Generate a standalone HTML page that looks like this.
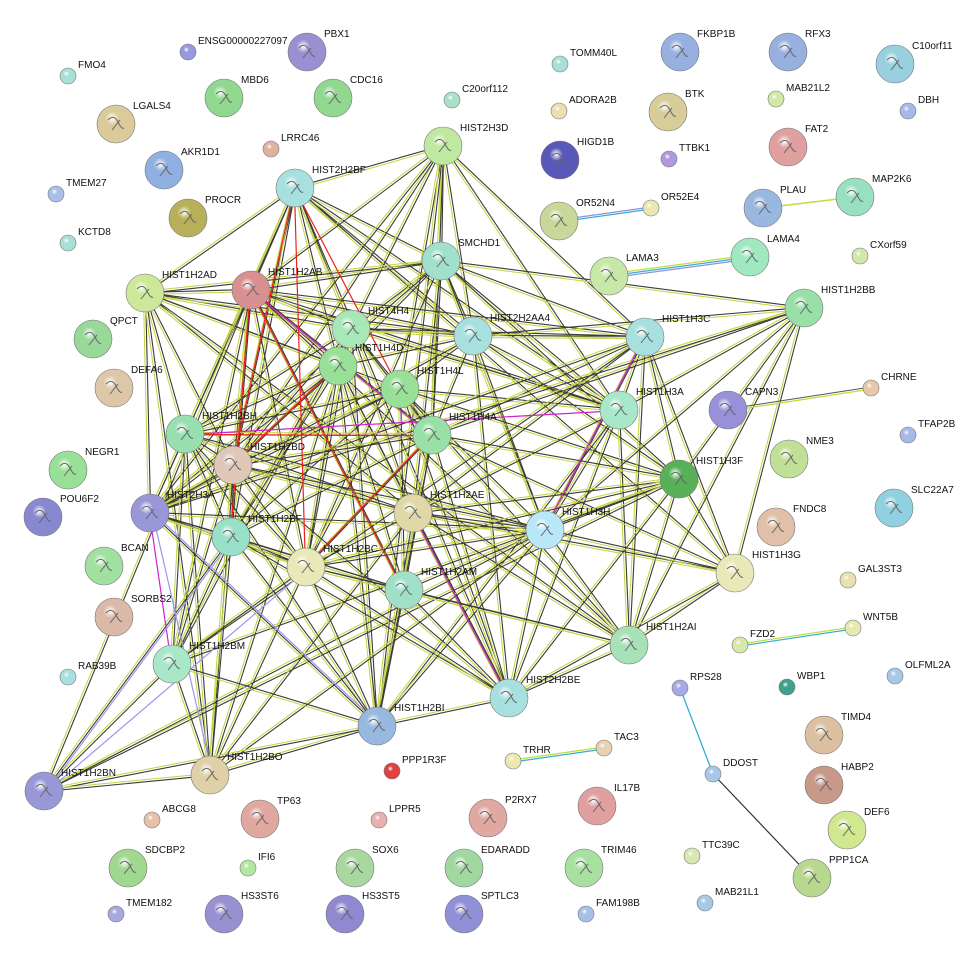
<!DOCTYPE html>
<html><head><meta charset="utf-8">
<style>html,body{margin:0;padding:0;background:#fff;}svg{display:block;}text{font-family:"Liberation Sans",sans-serif;font-size:10px;fill:#111;}</style>
</head><body>
<svg id="s" width="979" height="961" xmlns="http://www.w3.org/2000/svg"><defs id="d"></defs><g id="e"></g><g id="n"></g><g id="t"></g></svg>
<script>
var B=[
["PBX1",307,52,"#9a8fd0"],["MBD6",224,98,"#90d890"],["CDC16",333,98,"#90d890"],["LGALS4",116,124,"#dccb9a"],
["AKR1D1",164,170,"#8fb0e0"],["PROCR",188,218,"#b8b058"],["HIST2H2BF",295,188,"#a8e0e0"],["HIST2H3D",443,146,"#bfe8a0"],
["SMCHD1",441,261,"#a0e0cc"],["HIST1H2AD",145,293,"#cce898"],["HIST1H2AB",251,290,"#d89090"],["QPCT",93,339,"#98d898"],
["HIST4H4",351,329,"#a8e8b8"],["HIST2H2AA4",473,336,"#a8e0e0"],["HIST1H4D",338,366,"#98e098"],["HIST1H4L",400,389,"#98e098"],
["DEFA6",114,388,"#dcc8a8"],["HIST1H3C",645,337,"#a8e0e0"],["HIST1H2BB",804,308,"#98e0a8"],["HIST1H3A",619,410,"#a8e8c8"],
["HIST1H4A",432,435,"#98e0a8"],["HIST1H2BH",185,434,"#98e0b0"],["HIST1H2BD",233,465,"#e0c8b8"],["NEGR1",68,470,"#98e098"],
["CAPN3",728,410,"#9890d8"],["NME3",789,459,"#c0e098"],["HIST1H3F",679,479,"#58b058"],["POU6F2",43,517,"#8888d0"],
["HIST2H3A",150,513,"#9898d8"],["HIST1H2AE",413,513,"#e0d8a8"],["HIST1H2BF",231,537,"#98e0c8"],["HIST1H3H",545,530,"#b8e8f8"],
["FNDC8",776,527,"#e0c0a8"],["SLC22A7",894,508,"#90d0e0"],["BCAN",104,566,"#a0e0a0"],["HIST1H2BC",306,567,"#e8e8b8"],
["HIST1H2AM",404,590,"#a0e0c8"],["HIST1H3G",735,573,"#e8e8b8"],["SORBS2",114,617,"#dcb8a8"],["HIST1H2AI",629,645,"#a8e0b8"],
["HIST1H2BM",172,664,"#a8e8c8"],["HIST2H2BE",509,698,"#a8e0e0"],["HIST1H2BI",377,726,"#98b8e0"],["TIMD4",824,735,"#dcc0a0"],
["HIST1H2BO",210,775,"#e0d0a8"],["HIST1H2BN",44,791,"#9898d8"],["HABP2",824,785,"#c89888"],["IL17B",597,806,"#e0a0a0"],
["P2RX7",488,818,"#e0a8a0"],["TP63",260,819,"#e0a8a0"],["DEF6",847,830,"#d0e890"],["SDCBP2",128,868,"#a0d890"],
["SOX6",355,868,"#a8d8a0"],["EDARADD",464,868,"#a0d8a0"],["TRIM46",584,868,"#a8e0a0"],["PPP1CA",812,878,"#b8d890"],
["HS3ST6",224,914,"#9890d0"],["HS3ST5",345,914,"#9088d0"],["SPTLC3",464,914,"#9090d8"],["FKBP1B",680,52,"#98b0e0"],
["RFX3",788,52,"#98b0e0"],["C10orf11",895,64,"#98d0e0"],["BTK",668,112,"#d8cc98"],["FAT2",788,147,"#e0a0a0"],
["HIGD1B",560,160,"#5858b8"],["OR52N4",559,221,"#c8d898"],["PLAU",763,208,"#98b8e0"],["MAP2K6",855,197,"#98e0c0"],
["LAMA4",750,257,"#a0e8c0"],["LAMA3",609,276,"#c8e8a8"]];
var S=[["ENSG00000227097",188,52,"#9898e0"],["FMO4",68,76,"#a8e0d8"],["LRRC46",271,149,"#e0b0a0"],["TMEM27",56,194,"#a8c0e8"],
["KCTD8",68,243,"#a8e0d8"],["C20orf112",452,100,"#a8e0c8"],["TOMM40L",560,64,"#a8e0d8"],["ADORA2B",559,111,"#e8e0b0"],
["TTBK1",669,159,"#b098e0"],["MAB21L2",776,99,"#d0e8a8"],["DBH",908,111,"#a8b8e8"],["OR52E4",651,208,"#e8e8b0"],
["CXorf59",860,256,"#d0e8a8"],["CHRNE",871,388,"#e8c8a8"],["TFAP2B",908,435,"#a8b8e8"],["GAL3ST3",848,580,"#e8e0b0"],
["WNT5B",853,628,"#e8e8b0"],["FZD2",740,645,"#d8e8a8"],["RPS28",680,688,"#a8a8e8"],["WBP1",787,687,"#40a090"],
["OLFML2A",895,676,"#a8c8e8"],["RAB39B",68,677,"#a8e0e0"],["PPP1R3F",392,771,"#e04040"],["TRHR",513,761,"#e8e8b0"],
["TAC3",604,748,"#e8d0b0"],["DDOST",713,774,"#a8c8e8"],["ABCG8",152,820,"#e8c0a8"],["LPPR5",379,820,"#e8b0b0"],
["IFI6",248,868,"#b0e8a0"],["TTC39C",692,856,"#d8e8b0"],["TMEM182",116,914,"#a8a8e0"],["FAM198B",586,914,"#a8c0e8"],
["MAB21L1",705,903,"#a8c8e8"]];
var NS="http://www.w3.org/2000/svg",P={};
function el(t,a,p){var e=document.createElementNS(NS,t);for(var k in a)e.setAttribute(k,a[k]);p.appendChild(e);return e;}
var d=document.getElementById('d'),E=document.getElementById('e'),N=document.getElementById('n'),T=document.getElementById('t');
var gi=0;
function node(a,r){P[a[0]]=[a[1],a[2]];var id='g'+(gi++);var g=el('radialGradient',{id:id,cx:'40%',cy:'35%',r:'70%'},d);
el('stop',{offset:'0%','stop-color':'#ffffff'},g);el('stop',{offset:'25%','stop-color':a[3]},g);el('stop',{offset:'100%','stop-color':a[3]},g);
el('circle',{cx:a[1],cy:a[2],r:r,fill:'url(#'+id+')',stroke:'#777','stroke-width':0.6},N);
if(r>12){el('path',{d:'M'+(a[1]-8)+' '+(a[2]-4)+' q6 -6 10 2 t6 6 M'+(a[1]-4)+' '+(a[2]+6)+' l8 -10',stroke:'#666',fill:'none','stroke-width':1},N);}
var tx=el('text',{x:a[1]+(r>12?17:10),y:a[2]-(r>12?15:8)},T);tx.textContent=a[0];}
B.forEach(function(a){node(a,19);});S.forEach(function(a){node(a,8);});
function line(a,b,c,w,o){var p=P[a],q=P[b];var dx=q[0]-p[0],dy=q[1]-p[1],L=Math.hypot(dx,dy)||1;var ox=-dy/L*o,oy=dx/L*o;
el('line',{x1:p[0]+ox,y1:p[1]+oy,x2:q[0]+ox,y2:q[1]+oy,stroke:c,'stroke-width':w},E);}
var H=["HIST2H2BF","HIST2H3D","SMCHD1","HIST1H2AD","HIST1H2AB","HIST4H4","HIST2H2AA4","HIST1H4D","HIST1H4L","HIST1H3C","HIST1H2BB","HIST1H3A","HIST1H4A","HIST1H2BH","HIST1H2BD","HIST1H3F","HIST2H3A","HIST1H2AE","HIST1H2BF","HIST1H3H","HIST1H2BC","HIST1H2AM","HIST1H3G","HIST1H2AI","HIST1H2BM","HIST2H2BE","HIST1H2BI","HIST1H2BO","HIST1H2BN"];
var seed=7;function rnd(){seed=(seed*9301+49297)%233280;return seed/233280;}
for(var i=0;i<H.length;i++)for(var j=i+1;j<H.length;j++){var p=P[H[i]],q=P[H[j]];var D=Math.hypot(p[0]-q[0],p[1]-q[1]);
var pr=D<250?0.8:(D<400?0.45:0.15);if(rnd()<pr){line(H[i],H[j],'#c4d440',1,1.6);line(H[i],H[j],'#3a3a3a',1.1,-0.6);}}
[["HIST2H2BF","HIST1H2BD"],["HIST2H2BF","HIST1H2BC"],["HIST1H2AB","HIST1H2BF"],["HIST1H2AB","HIST1H2AM"],["HIST1H4D","HIST1H2BD"],["HIST2H2BF","HIST1H4L"],["HIST1H2BH","HIST1H4A"],["HIST1H4A","HIST1H2BC"]].forEach(function(x){line(x[0],x[1],'#f02020',1.2,0.6);});
[["HIST1H2BH","HIST1H3A"],["HIST1H2AE","HIST2H2BE"],["HIST1H3C","HIST1H3H"],["HIST1H2AB","HIST1H4A"],["HIST2H3A","HIST1H2BM"]].forEach(function(x){line(x[0],x[1],'#d020d0',1.2,0.6);});
[["HIST1H2BN","HIST1H2BF"],["HIST1H2BN","HIST1H2BC"],["HIST1H2BO","HIST2H3A"],["HIST1H2BI","HIST2H3A"]].forEach(function(x){line(x[0],x[1],'#9898f0',1.2,2.4);});
line("PLAU","MAP2K6",'#c0dc40',1.4,0);
line("OR52N4","OR52E4",'#30b0d0',1.2,1);line("OR52N4","OR52E4",'#9090e0',1.2,-1);
line("LAMA3","LAMA4",'#9090e0',1.2,2);line("LAMA3","LAMA4",'#30b0d0',1.2,0);line("LAMA3","LAMA4",'#c0dc40',1.2,-2);
line("CAPN3","CHRNE",'#c0dc40',1.3,1);line("CAPN3","CHRNE",'#555',1,-1);
line("FZD2","WNT5B",'#30b0d0',1.2,1);line("FZD2","WNT5B",'#c0dc40',1.2,-1);
line("TRHR","TAC3",'#30b0d0',1.2,1);line("TRHR","TAC3",'#c0dc40',1.2,-1);
line("RPS28","DDOST",'#30b0d0',1.3,0);line("DDOST","PPP1CA",'#333',1.2,0);
</script>
</body></html>
